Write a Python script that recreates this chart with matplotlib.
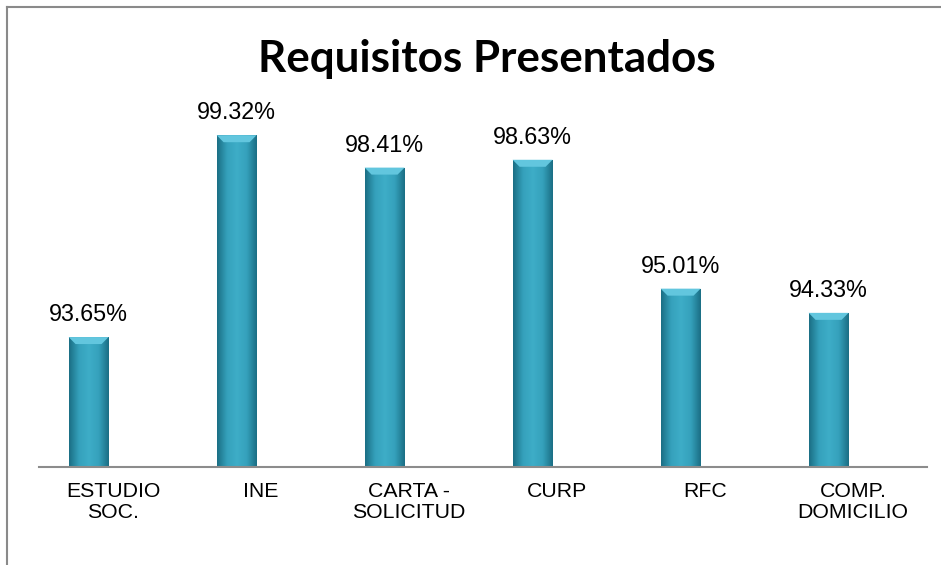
import numpy as np
import matplotlib
matplotlib.use("Agg")
import matplotlib.pyplot as plt
from matplotlib.lines import Line2D
from matplotlib.patches import Polygon
from matplotlib.colors import LinearSegmentedColormap

categories = ["ESTUDIO\nSOC.", "INE", "CARTA -\nSOLICITUD", "CURP", "RFC", "COMP.\nDOMICILIO"]
values = [93.65, 99.32, 98.41, 98.63, 95.01, 94.33]
labels = ["93.65%", "99.32%", "98.41%", "98.63%", "95.01%", "94.33%"]

plt.rcParams['font.family'] = ['Liberation Sans', 'DejaVu Sans']

fig = plt.figure(figsize=(9.41, 5.65), dpi=100)
ax = fig.add_axes([39 / 941, 98 / 565, 888 / 941, 356 / 565])

x = np.arange(len(categories))
# bars sit left of the category centre (clustered with an empty second series)
bx = x - 0.165
bars = ax.bar(bx, values, width=0.27, color='#3aa6c0', zorder=2)

ax.set_ylim(90, 100)
ax.set_xlim(-0.5, len(categories) - 0.5)

# horizontal gradient on each bar for the bevel look
cmap = LinearSegmentedColormap.from_list('bev', ['#1b6f85', '#35a1bc', '#3eadc7', '#35a1bc', '#1b6f85'])
grad = np.linspace(0, 1, 64).reshape(1, -1)
inv = ax.transData.inverted()
for b in bars:
    x0, w, h = b.get_x(), b.get_width(), b.get_height()
    im = ax.imshow(grad, cmap=cmap, aspect='auto', extent=[x0, x0 + w, 90, h],
                   zorder=3, interpolation='bicubic')
    im.set_clip_path(b)
    # light top cap: trapezoid a few pixels tall, built from the bar geometry
    inset = 7
    px0, py = ax.transData.transform((x0, h))
    px1, _ = ax.transData.transform((x0 + w, h))
    pts = [inv.transform(p) for p in [(px0, py), (px1, py), (px1 - inset, py - inset), (px0 + inset, py - inset)]]
    ax.add_patch(Polygon(pts, closed=True, facecolor='#62c6de', edgecolor='none', zorder=4))

ax.set_xlim(-0.5, len(categories) - 0.5)
ax.set_ylim(90, 100)

for xi, v, lab in zip(bx, values, labels):
    ax.annotate(lab, (xi, v), xytext=(0, 11.5), textcoords='offset points',
                ha='center', va='baseline', fontsize=16.8, color='black')

ax.set_xticks(x)
ax.set_xticklabels(categories, fontsize=15.3, linespacing=1.1)
ax.tick_params(axis='x', length=0, pad=11)
ax.set_yticks([])
for s in ['top', 'right', 'left']:
    ax.spines[s].set_visible(False)
ax.spines['bottom'].set_color('#8c8c8c')
ax.spines['bottom'].set_linewidth(1.5)
ax.spines['bottom'].set_zorder(5)

fig.text(487 / 941, 1 - 72 / 565, "Requisitos Presentados", ha='center', va='baseline',
         fontsize=31.7, fontweight='bold', family=['Lato', 'DejaVu Sans'])

# outer frame (partially visible in the original crop)
fig.add_artist(Line2D([7 / 941, 1], [1 - 7 / 565, 1 - 7 / 565], transform=fig.transFigure,
                      color='#8a8a8a', linewidth=1.5))
fig.add_artist(Line2D([7 / 941, 7 / 941], [0, 1 - 7 / 565], transform=fig.transFigure,
                      color='#8a8a8a', linewidth=1.5))

fig.savefig("out.png", dpi=100)
